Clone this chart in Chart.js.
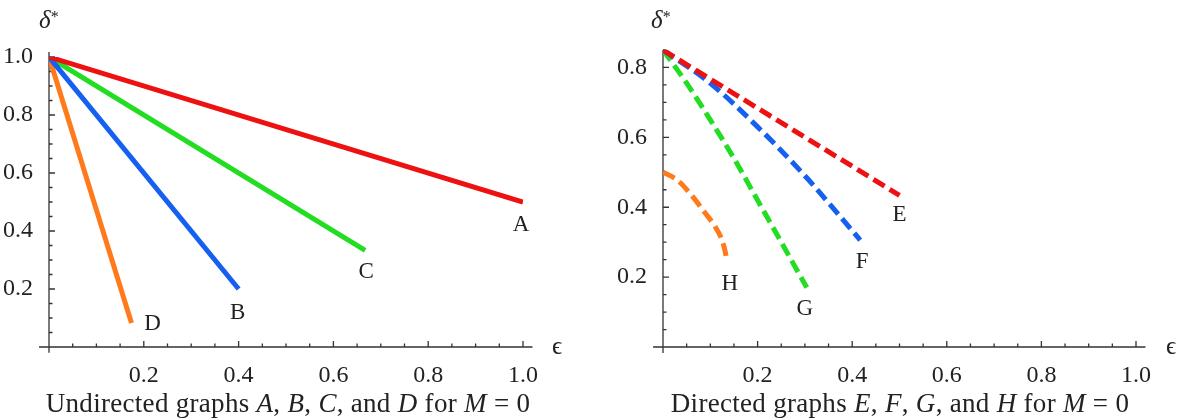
<!DOCTYPE html>
<html>
<head>
<meta charset="utf-8">
<script src="https://cdn.jsdelivr.net/npm/chart.js@4.4.1/dist/chart.umd.min.js"></script>
<style>
body{margin:0;background:#fff;width:1185px;height:420px;overflow:hidden;position:relative;font-family:"Liberation Serif","DejaVu Serif",serif;color:#222}
canvas{position:absolute;top:0}
#c1{left:0}
#c2{left:590px}
.cap{position:absolute;top:390px;font-size:27px;line-height:27px;white-space:nowrap;transform:translateX(-50%);letter-spacing:0.3px}
.lab{position:absolute;font-size:25px;line-height:25px}
.lab sup{font-size:16px;vertical-align:top;position:relative;top:-3px}
</style>
</head>
<body>
<canvas id="c1" width="590" height="420"></canvas>
<canvas id="c2" width="595" height="420"></canvas>
<div class="lab" style="left:39px;top:7px"><i>δ</i><sup>*</sup></div>
<div class="lab" style="left:651px;top:7px"><i>δ</i><sup>*</sup></div>
<div class="lab" style="left:552px;top:333px">ϵ</div>
<div class="lab" style="left:1166px;top:333px">ϵ</div>
<div class="cap" style="left:288px">Undirected graphs <i>A</i>, <i>B</i>, <i>C</i>, and <i>D</i> for <i>M</i> = 0</div>
<div class="cap" style="left:900px">Directed graphs <i>E</i>, <i>F</i>, <i>G</i>, and <i>H</i> for <i>M</i> = 0</div>
<script>
// grafica izquierda (no dirigidos)
const aX = [0, 1.0];
const aY = [1.0, 0.5];
const bX = [0, 0.4];
const bY = [1.0, 0.2];
const cX = [0, 0.667];
const cY = [1.0, 0.333];
const dX = [0, 0.174];
const dY = [1.0, 0.083];

// grafica derecha (dirigidos)
const eX = [0, 0.5];
const eY = [0.85, 0.434];
const fX = [0, 0.1, 0.2, 0.3, 0.417];
const fY = [0.85, 0.755, 0.63, 0.49, 0.306];
const gX = [0, 0.05, 0.1, 0.15, 0.2, 0.25, 0.304];
const gY = [0.85, 0.755, 0.65, 0.54, 0.42, 0.3, 0.17];
const hX = [0, 0.03, 0.06, 0.09, 0.11, 0.125, 0.132, 0.135];
const hY = [0.5, 0.478, 0.435, 0.382, 0.345, 0.305, 0.27, 0.245];

const ticksX = [0.2, 0.4, 0.6, 0.8, 1.0];
const ticksY1 = [0.2, 0.4, 0.6, 0.8, 1.0];
const ticksY2 = [0.2, 0.4, 0.6, 0.8];

const rojo = "#ee1111";
const azul = "#1560f0";
const verde = "#22dd22";
const naranja = "#ff7a1a";

function puntos(xs, ys) {
  return xs.map((x, i) => ({ x: x, y: ys[i] }));
}

function serie(nombre, xs, ys, color, dash, curva) {
  return {
    label: nombre,
    data: puntos(xs, ys),
    showLine: true,
    borderColor: color,
    borderWidth: 5,
    borderDash: dash ? [13, 6] : [],
    borderCapStyle: "butt",
    pointRadius: 0,
    cubicInterpolationMode: curva ? "monotone" : "default",
    tension: 0,
  };
}

// ejes estilo Mathematica, marcas hacia adentro
const ejes = {
  id: "ejes",
  beforeDatasetsDraw(chart, args, o) {
    const ctx = chart.ctx;
    const sx = chart.scales.x, sy = chart.scales.y;
    const x0 = sx.getPixelForValue(0), y0 = sy.getPixelForValue(0);
    ctx.save();
    ctx.strokeStyle = "#333";
    ctx.lineWidth = 1.3;
    ctx.beginPath();
    ctx.moveTo(sx.getPixelForValue(-0.021), y0);
    ctx.lineTo(sx.getPixelForValue(1.02), y0);
    ctx.moveTo(x0, sy.getPixelForValue(o.yBajo));
    ctx.lineTo(x0, sy.getPixelForValue(o.yTope));
    for (let i = 1; i <= 20; i++) {
      const v = i * 0.05;
      const l = i % 4 == 0 ? 6 : 3.5;
      const px = sx.getPixelForValue(v);
      ctx.moveTo(px, y0);
      ctx.lineTo(px, y0 - l);
    }
    for (let i = 1; i <= o.nY; i++) {
      const v = i * 0.05;
      const l = i % 4 == 0 ? 6 : 3.5;
      const py = sy.getPixelForValue(v);
      ctx.moveTo(x0, py);
      ctx.lineTo(x0 + l, py);
    }
    ctx.stroke();
    ctx.restore();
  },
  afterDatasetsDraw(chart, args, o) {
    const ctx = chart.ctx;
    ctx.save();
    ctx.font = "23px 'Liberation Serif'";
    ctx.fillStyle = "#222";
    ctx.textAlign = "center";
    ctx.textBaseline = "middle";
    chart.data.datasets.forEach((ds, i) => {
      const p = ds.data[ds.data.length - 1];
      const off = o.offsets[i];
      ctx.fillText(ds.label, chart.scales.x.getPixelForValue(p.x) + off[0], chart.scales.y.getPixelForValue(p.y) + off[1]);
    });
    ctx.restore();
  },
};

function opciones(yMax, ticksY, anchoY, padTop, padRight, yBajo, yTope, nY, offsets) {
  return {
    responsive: false,
    animation: false,
    layout: { padding: { top: padTop, right: padRight, left: 0, bottom: 0 } },
    plugins: {
      legend: { display: false },
      tooltip: { enabled: false },
      ejes: { yBajo: yBajo, yTope: yTope, nY: nY, offsets: offsets },
    },
    scales: {
      x: {
        type: "linear",
        min: 0,
        max: 1,
        grid: { display: false },
        border: { display: false },
        afterBuildTicks: (s) => { s.ticks = ticksX.map((v) => ({ value: v })); },
        afterFit: (s) => { s.height = 73; },
        ticks: {
          padding: 6,
          color: "#222",
          font: { family: "Liberation Serif", size: 24 },
          maxRotation: 0,
          callback: (v) => Number(v).toFixed(1),
        },
      },
      y: {
        type: "linear",
        min: 0,
        max: yMax,
        grid: { display: false },
        border: { display: false },
        afterBuildTicks: (s) => { s.ticks = ticksY.map((v) => ({ value: v })); },
        afterFit: (s) => { s.width = anchoY; },
        ticks: {
          padding: 8,
          color: "#222",
          font: { family: "Liberation Serif", size: 24 },
          callback: (v) => Number(v).toFixed(1),
        },
      },
    },
  };
}

new Chart(document.querySelector("#c1"), {
  type: "scatter",
  data: {
    datasets: [
      serie("A", aX, aY, rojo, false, false),
      serie("B", bX, bY, azul, false, false),
      serie("C", cX, cY, verde, false, false),
      serie("D", dX, dY, naranja, false, false),
    ],
  },
  options: opciones(1.0, ticksY1, 49, 57, 67, -0.02, 1.017, 20,
    [[-2, 23], [-1, 24], [1, 22], [21, 1]]),
  plugins: [ejes],
});

new Chart(document.querySelector("#c2"), {
  type: "scatter",
  data: {
    datasets: [
      serie("E", eX, eY, rojo, true, false),
      serie("F", fX, fY, azul, true, true),
      serie("G", gX, gY, verde, true, true),
      serie("H", hX, hY, naranja, true, true),
    ],
  },
  options: opciones(0.85, ticksY2, 73, 50, 49, -0.017, 0.85, 17,
    [[0, 20], [2, 22], [-2, 21], [3, 23]]),
  plugins: [ejes],
});
</script>
</body>
</html>
